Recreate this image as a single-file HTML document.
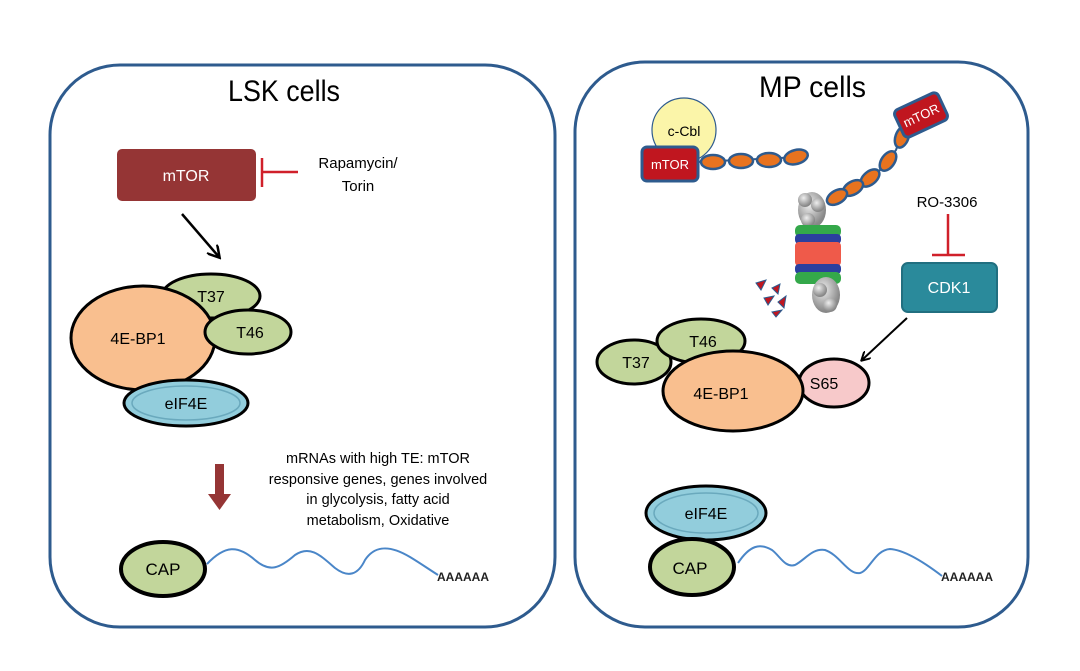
<!DOCTYPE html>
<html><head><meta charset="utf-8"><style>
html,body{margin:0;padding:0;background:#fff;}
svg{display:block;font-family:"Liberation Sans",sans-serif;}
</style></head><body>
<svg width="1080" height="671" viewBox="0 0 1080 671" xmlns="http://www.w3.org/2000/svg">
<defs>
<marker id="ah" markerWidth="14" markerHeight="14" refX="11" refY="7" orient="auto" markerUnits="userSpaceOnUse"><path d="M0,0 L12,7 L0,14" fill="none" stroke="#000" stroke-width="2.5"/></marker>
<marker id="ah2" markerWidth="10" markerHeight="10" refX="8" refY="5" orient="auto" markerUnits="userSpaceOnUse"><path d="M0,0 L9,5 L0,10" fill="none" stroke="#000" stroke-width="2"/></marker>
<radialGradient id="gs" cx="40%" cy="35%" r="60%"><stop offset="0" stop-color="#eee"/><stop offset="1" stop-color="#888"/></radialGradient>
</defs>
<!-- panels -->
<rect x="50" y="65" width="505" height="562" rx="70" fill="none" stroke="#2e5b8e" stroke-width="3"/>
<rect x="575" y="62" width="453" height="565" rx="70" fill="none" stroke="#2e5b8e" stroke-width="3"/>
<text x="228" y="101" font-size="30" textLength="112" lengthAdjust="spacingAndGlyphs">LSK cells</text>
<text x="759" y="97" font-size="30" textLength="107" lengthAdjust="spacingAndGlyphs">MP cells</text>

<!-- LEFT -->
<rect x="117" y="149" width="139" height="52" rx="5" fill="#953535"/>
<text x="186" y="181" font-size="16" fill="#fff" text-anchor="middle">mTOR</text>
<line x1="262" y1="158" x2="262" y2="187" stroke="#d0202a" stroke-width="2.5"/>
<line x1="262" y1="172" x2="298" y2="172" stroke="#d0202a" stroke-width="2.5"/>
<text x="358" y="168" font-size="15" text-anchor="middle">Rapamycin/</text>
<text x="358" y="191" font-size="15" text-anchor="middle">Torin</text>
<line x1="182" y1="214" x2="219" y2="257" stroke="#000" stroke-width="2.5" marker-end="url(#ah)"/>

<ellipse cx="211" cy="296" rx="49" ry="22" fill="#c2d69b" stroke="#000" stroke-width="3"/>
<text x="211" y="302" font-size="16" text-anchor="middle">T37</text>
<ellipse cx="143" cy="338" rx="72" ry="52" fill="#f9bf8f" stroke="#000" stroke-width="3"/>
<text x="138" y="344" font-size="16" text-anchor="middle">4E-BP1</text>
<ellipse cx="248" cy="332" rx="43" ry="22" fill="#c2d69b" stroke="#000" stroke-width="3"/>
<text x="250" y="338" font-size="16" text-anchor="middle">T46</text>
<ellipse cx="186" cy="403" rx="62" ry="23" fill="#92cddc" stroke="#000" stroke-width="3"/>
<ellipse cx="186" cy="403" rx="54" ry="17" fill="none" stroke="#6aa9bd" stroke-width="1.5"/>
<text x="186" y="409" font-size="16" text-anchor="middle">eIF4E</text>

<rect x="215" y="464" width="9" height="30" fill="#953535"/>
<polygon points="208,494 231,494 219.5,510" fill="#953535"/>
<text font-size="14.5" text-anchor="middle"><tspan x="378" y="463">mRNAs with high TE: mTOR</tspan><tspan x="378" y="484">responsive genes, genes involved</tspan><tspan x="378" y="504">in glycolysis, fatty acid</tspan><tspan x="378" y="525">metabolism, Oxidative</tspan></text>

<ellipse cx="163" cy="569" rx="42" ry="27" fill="#c2d69b" stroke="#000" stroke-width="4"/>
<text x="163" y="575" font-size="17" text-anchor="middle">CAP</text>
<path d="M207,564 C225,545 238,545 255,560 C270,573 280,568 295,555 C310,545 320,555 335,568 C348,578 358,575 365,560 C375,545 390,545 410,557 C420,563 430,570 438,575" fill="none" stroke="#4a86c8" stroke-width="2"/>
<text x="437" y="581" font-size="12" font-weight="bold" fill="#222">AAAAAA</text>

<!-- RIGHT -->
<circle cx="684" cy="130" r="32" fill="#fbf5a9" stroke="#2e5b8e" stroke-width="1.2"/>
<text x="684" y="136" font-size="14" text-anchor="middle">c-Cbl</text>
<g fill="#e8731f" stroke="#2e5b8e" stroke-width="2.5">
<line x1="697" y1="162" x2="800" y2="157" stroke-width="2"/>
<ellipse cx="713" cy="162" rx="12" ry="7"/>
<ellipse cx="741" cy="161" rx="12" ry="7"/>
<ellipse cx="769" cy="160" rx="12" ry="7"/>
<ellipse cx="796" cy="157" rx="12" ry="7" transform="rotate(-15 796 157)"/>
<polyline points="905,125 896,150 880,170 860,185 838,197" fill="none" stroke-width="2"/>
<ellipse cx="902" cy="137" rx="11" ry="6.5" transform="rotate(-70 902 137)"/>
<ellipse cx="888" cy="161" rx="11" ry="6.5" transform="rotate(-55 888 161)"/>
<ellipse cx="870" cy="178" rx="11" ry="6.5" transform="rotate(-40 870 178)"/>
<ellipse cx="853" cy="188" rx="11" ry="6.5" transform="rotate(-30 853 188)"/>
<ellipse cx="837" cy="197" rx="11" ry="6.5" transform="rotate(-30 837 197)"/>
</g>
<rect x="642" y="147" width="56" height="34" rx="5" fill="#c0161f" stroke="#2e5b8e" stroke-width="3"/>
<text x="670" y="169" font-size="13" fill="#fff" text-anchor="middle">mTOR</text>
<g transform="rotate(-25 921 115)">
<rect x="897" y="100" width="48" height="30" rx="5" fill="#c0161f" stroke="#2e5b8e" stroke-width="3"/>
<text x="921" y="120" font-size="13" fill="#fff" text-anchor="middle">mTOR</text>
</g>
<!-- proteasome -->
<g>
<ellipse cx="812" cy="210" rx="14" ry="18" fill="url(#gs)"/>
<circle cx="805" cy="200" r="7" fill="url(#gs)"/><circle cx="818" cy="205" r="7" fill="url(#gs)"/><circle cx="808" cy="220" r="7" fill="url(#gs)"/>
<rect x="795" y="225" width="46" height="12" rx="5" fill="#34a84a"/>
<rect x="795" y="234" width="46" height="10" rx="4" fill="#2b3f9e"/>
<rect x="795" y="242" width="46" height="24" rx="4" fill="#ef5a4a"/>
<rect x="795" y="264" width="46" height="10" rx="4" fill="#2b3f9e"/>
<rect x="795" y="272" width="46" height="12" rx="5" fill="#34a84a"/>
<ellipse cx="826" cy="295" rx="14" ry="18" fill="url(#gs)"/>
<circle cx="820" cy="290" r="7" fill="url(#gs)"/><circle cx="830" cy="305" r="7" fill="url(#gs)"/>
</g>
<g fill="#c0161f" stroke="#2e5b8e" stroke-width="1">
<polygon points="756,283 766,280 761,290"/>
<polygon points="772,288 780,284 778,294"/>
<polygon points="764,298 774,296 768,305"/>
<polygon points="778,302 786,296 784,308"/>
<polygon points="772,312 782,310 776,317"/>
</g>
<text x="947" y="207" font-size="15" text-anchor="middle">RO-3306</text>
<line x1="948" y1="214" x2="948" y2="254" stroke="#d0202a" stroke-width="2.5"/>
<line x1="932" y1="255" x2="965" y2="255" stroke="#d0202a" stroke-width="2.5"/>
<rect x="902" y="263" width="95" height="49" rx="6" fill="#2a8a9b" stroke="#216f80" stroke-width="2"/>
<text x="949" y="293" font-size="16" fill="#fff" text-anchor="middle">CDK1</text>
<line x1="907" y1="318" x2="862" y2="360" stroke="#000" stroke-width="2" marker-end="url(#ah2)"/>

<ellipse cx="634" cy="362" rx="37" ry="22" fill="#c2d69b" stroke="#000" stroke-width="3"/>
<text x="636" y="368" font-size="16" text-anchor="middle">T37</text>
<ellipse cx="701" cy="341" rx="44" ry="22" fill="#c2d69b" stroke="#000" stroke-width="3"/>
<text x="703" y="347" font-size="16" text-anchor="middle">T46</text>
<ellipse cx="834" cy="383" rx="35" ry="24" fill="#f7c9ca" stroke="#000" stroke-width="3"/>
<text x="824" y="389" font-size="16" text-anchor="middle">S65</text>
<ellipse cx="733" cy="391" rx="70" ry="40" fill="#f9bf8f" stroke="#000" stroke-width="3"/>
<text x="721" y="399" font-size="16" text-anchor="middle">4E-BP1</text>

<ellipse cx="706" cy="513" rx="60" ry="27" fill="#92cddc" stroke="#000" stroke-width="3"/>
<ellipse cx="706" cy="513" rx="52" ry="20" fill="none" stroke="#6aa9bd" stroke-width="1.5"/>
<text x="706" y="519" font-size="16" text-anchor="middle">eIF4E</text>
<ellipse cx="692" cy="567" rx="42" ry="28" fill="#c2d69b" stroke="#000" stroke-width="4"/>
<text x="690" y="574" font-size="17" text-anchor="middle">CAP</text>
<path d="M738,563 C750,545 760,543 772,550 C780,556 785,568 795,565 C805,560 812,548 825,550 C840,555 848,575 860,573 C870,570 875,550 890,549 C905,550 925,563 942,576" fill="none" stroke="#4a86c8" stroke-width="2"/>
<text x="941" y="581" font-size="12" font-weight="bold" fill="#222">AAAAAA</text>
</svg>
</body></html>
